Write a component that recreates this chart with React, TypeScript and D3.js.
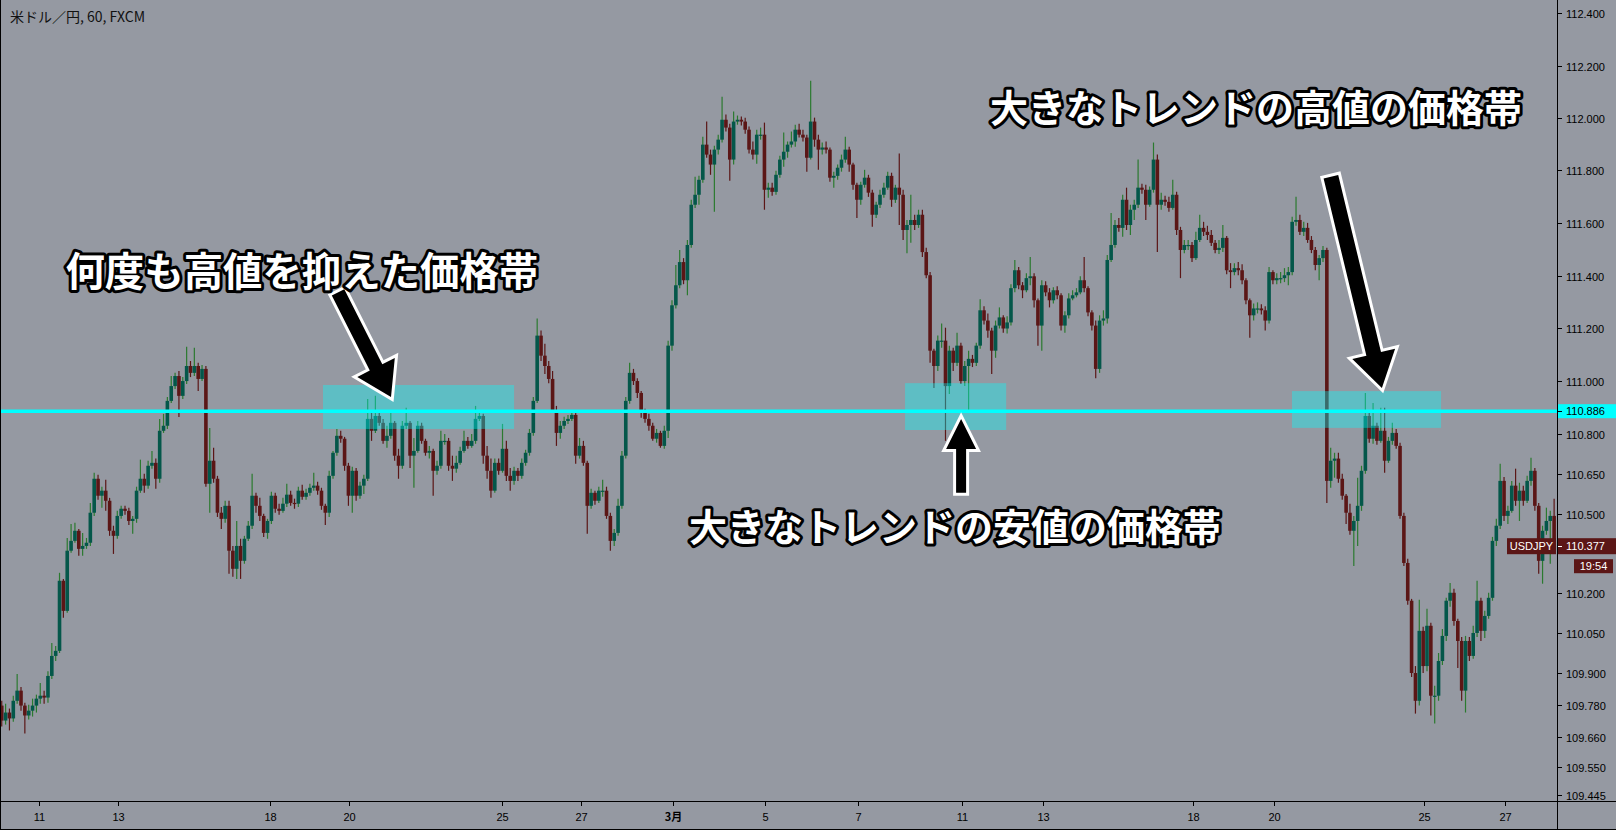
import React from 'react';
import * as d3 from 'd3';

const W = 1616;
const H = 830;

// USD/JPY, 60 min, FXCM — aggregated here into 2-hour candles (open = previous close)
const firstOpen = 109.779;
const closes = [
  109.723, 109.753, 109.731, 109.797, 109.835, 109.779, 109.742, 109.760, 109.779, 109.805,
  109.816, 109.809, 109.890, 109.965, 109.984, 110.247, 110.134, 110.360, 110.397, 110.435,
  110.367, 110.378, 110.390, 110.503, 110.631, 110.567, 110.586, 110.548, 110.435, 110.416,
  110.491, 110.518, 110.510, 110.472, 110.480, 110.586, 110.631, 110.605, 110.680, 110.691,
  110.631, 110.812, 110.831, 110.925, 110.981, 111.019, 110.944, 111.000, 111.057, 111.031,
  111.057, 111.008, 111.046, 110.612, 110.699, 110.631, 110.503, 110.480, 110.529, 110.360,
  110.292, 110.378, 110.322, 110.405, 110.454, 110.567, 110.529, 110.491, 110.427, 110.472,
  110.567, 110.518, 110.510, 110.537, 110.571, 110.540, 110.537, 110.586, 110.563, 110.578,
  110.597, 110.605, 110.586, 110.529, 110.503, 110.642, 110.729, 110.793, 110.782, 110.680,
  110.567, 110.661, 110.567, 110.605, 110.631, 110.857, 110.812, 110.868, 110.842, 110.774,
  110.793, 110.842, 110.718, 110.680, 110.831, 110.842, 110.718, 110.736, 110.831, 110.774,
  110.729, 110.736, 110.661, 110.680, 110.774, 110.774, 110.680, 110.669, 110.691, 110.736,
  110.774, 110.755, 110.774, 110.857, 110.868, 110.718, 110.661, 110.586, 110.691, 110.661,
  110.744, 110.642, 110.623, 110.661, 110.642, 110.691, 110.729, 110.804, 110.925, 111.172,
  111.096, 111.057, 111.008, 110.887, 110.804, 110.831, 110.849, 110.857, 110.872, 110.718,
  110.755, 110.691, 110.529, 110.578, 110.548, 110.586, 110.586, 110.491, 110.397, 110.427,
  110.529, 110.718, 110.925, 111.031, 111.000, 110.955, 110.880, 110.857, 110.831, 110.782,
  110.804, 110.755, 110.812, 111.134, 111.287, 111.363, 111.451, 111.382, 111.516, 111.669,
  111.707, 111.764, 111.898, 111.860, 111.822, 111.879, 111.917, 111.993, 111.963, 111.841,
  111.986, 111.993, 111.986, 111.955, 111.879, 111.860, 111.936, 111.936, 111.726, 111.734,
  111.718, 111.783, 111.841, 111.871, 111.898, 111.910, 111.955, 111.936, 111.925, 111.848,
  111.986, 111.917, 111.879, 111.887, 111.879, 111.772, 111.779, 111.810, 111.841, 111.879,
  111.822, 111.745, 111.688, 111.745, 111.772, 111.715, 111.631, 111.669, 111.707, 111.734,
  111.779, 111.688, 111.734, 111.707, 111.573, 111.592, 111.611, 111.592, 111.631, 111.489,
  111.401, 111.115, 111.057, 111.153, 111.153, 110.981, 111.115, 111.069, 111.134, 111.000,
  111.057, 111.084, 111.069, 111.134, 111.268, 111.229, 111.191, 111.115, 111.210, 111.241,
  111.199, 111.222, 111.352, 111.420, 111.363, 111.344, 111.390, 111.397, 111.306, 111.210,
  111.363, 111.336, 111.306, 111.344, 111.325, 111.210, 111.249, 111.313, 111.325, 111.336,
  111.382, 111.352, 111.260, 111.210, 111.046, 111.229, 111.237, 111.459, 111.516, 111.592,
  111.581, 111.688, 111.592, 111.650, 111.669, 111.734, 111.726, 111.669, 111.726, 111.841,
  111.669, 111.688, 111.680, 111.657, 111.707, 111.573, 111.497, 111.516, 111.516, 111.466,
  111.535, 111.581, 111.566, 111.554, 111.524, 111.497, 111.505, 111.543, 111.420, 111.413,
  111.428, 111.420, 111.382, 111.306, 111.249, 111.275, 111.275, 111.268, 111.229, 111.413,
  111.382, 111.390, 111.390, 111.401, 111.413, 111.604, 111.611, 111.566, 111.581, 111.535,
  111.497, 111.440, 111.466, 111.497, 110.623, 110.699, 110.707, 110.631, 110.567, 110.503,
  110.435, 110.472, 110.529, 110.661, 110.868, 110.782, 110.831, 110.774, 110.812, 110.699,
  110.774, 110.804, 110.755, 110.491, 110.314, 110.172, 109.901, 109.797, 110.059, 109.927,
  110.078, 109.816, 109.816, 109.946, 110.040, 110.172, 110.202, 110.096, 110.021, 109.835,
  110.021, 109.965, 110.051, 110.172, 110.059, 110.115, 110.183, 110.397, 110.454, 110.623,
  110.491, 110.510, 110.605, 110.548, 110.586, 110.548, 110.623, 110.661, 110.529, 110.322,
  110.435, 110.472, 110.491, 110.377,
];
const highs = [
  109.797, 109.786, 109.768, 109.816, 109.897, 109.849, 109.790, 109.782, 109.805, 109.820,
  109.864, 109.835, 109.908, 110.013, 110.002, 110.277, 110.254, 110.408, 110.461, 110.465,
  110.442, 110.427, 110.408, 110.540, 110.654, 110.646, 110.601, 110.627, 110.559, 110.454,
  110.510, 110.529, 110.529, 110.522, 110.491, 110.601, 110.703, 110.650, 110.699, 110.736,
  110.707, 110.857, 110.876, 110.940, 111.019, 111.031, 111.038, 111.015, 111.130, 111.076,
  111.126, 111.069, 111.061, 111.057, 110.823, 110.748, 110.642, 110.525, 110.548, 110.548,
  110.378, 110.472, 110.405, 110.416, 110.472, 110.650, 110.578, 110.559, 110.499, 110.480,
  110.582, 110.578, 110.537, 110.559, 110.612, 110.586, 110.556, 110.601, 110.608, 110.593,
  110.612, 110.654, 110.620, 110.597, 110.537, 110.661, 110.736, 110.819, 110.812, 110.789,
  110.691, 110.676, 110.672, 110.620, 110.646, 110.932, 110.880, 110.944, 110.880, 110.857,
  110.831, 110.880, 110.849, 110.744, 110.849, 110.899, 110.849, 110.785, 110.849, 110.842,
  110.782, 110.755, 110.744, 110.699, 110.812, 110.800, 110.785, 110.718, 110.718, 110.752,
  110.812, 110.789, 110.800, 110.906, 110.880, 110.876, 110.755, 110.707, 110.707, 110.707,
  110.838, 110.774, 110.672, 110.676, 110.672, 110.707, 110.740, 110.819, 110.940, 111.237,
  111.191, 111.141, 111.076, 111.038, 110.906, 110.849, 110.865, 110.872, 110.887, 110.880,
  110.785, 110.774, 110.699, 110.593, 110.586, 110.601, 110.627, 110.601, 110.503, 110.442,
  110.556, 110.736, 110.940, 111.069, 111.046, 111.011, 110.962, 110.895, 110.876, 110.842,
  110.819, 110.812, 110.831, 111.153, 111.306, 111.440, 111.497, 111.466, 111.535, 111.688,
  111.776, 111.779, 111.928, 111.986, 111.879, 111.894, 111.936, 112.081, 112.013, 111.978,
  112.024, 112.009, 112.005, 112.001, 111.967, 111.910, 111.955, 111.963, 111.982, 111.753,
  111.753, 111.798, 111.856, 111.944, 111.910, 111.948, 111.974, 111.978, 111.955, 111.936,
  112.142, 112.001, 111.936, 111.906, 111.910, 111.887, 111.795, 111.822, 111.860, 111.928,
  111.890, 111.829, 111.753, 111.757, 111.802, 111.783, 111.726, 111.680, 111.726, 111.753,
  111.795, 111.791, 111.745, 111.864, 111.726, 111.611, 111.707, 111.631, 111.650, 111.650,
  111.505, 111.413, 111.122, 111.172, 111.218, 111.202, 111.134, 111.126, 111.183, 111.145,
  111.076, 111.115, 111.099, 111.145, 111.310, 111.283, 111.256, 111.202, 111.229, 111.279,
  111.249, 111.245, 111.367, 111.459, 111.432, 111.375, 111.409, 111.470, 111.409, 111.313,
  111.382, 111.378, 111.352, 111.355, 111.359, 111.333, 111.264, 111.333, 111.344, 111.352,
  111.397, 111.470, 111.359, 111.268, 111.229, 111.249, 111.268, 111.478, 111.638, 111.611,
  111.619, 111.707, 111.734, 111.669, 111.688, 111.841, 111.749, 111.745, 111.738, 111.906,
  111.860, 111.715, 111.703, 111.699, 111.764, 111.718, 111.585, 111.535, 111.535, 111.527,
  111.566, 111.631, 111.604, 111.589, 111.573, 111.535, 111.535, 111.592, 111.550, 111.447,
  111.447, 111.451, 111.443, 111.390, 111.313, 111.294, 111.298, 111.291, 111.283, 111.432,
  111.420, 111.409, 111.413, 111.428, 111.432, 111.623, 111.699, 111.631, 111.604, 111.600,
  111.550, 111.508, 111.478, 111.512, 111.505, 110.748, 110.729, 110.729, 110.650, 110.574,
  110.537, 110.491, 110.635, 110.680, 110.955, 110.887, 110.917, 110.842, 110.899, 110.899,
  110.789, 110.842, 110.819, 110.767, 110.503, 110.330, 110.179, 109.927, 110.176, 110.074,
  110.142, 110.089, 109.853, 109.976, 110.066, 110.183, 110.239, 110.217, 110.104, 110.036,
  110.040, 110.036, 110.078, 110.247, 110.183, 110.134, 110.202, 110.412, 110.480, 110.688,
  110.638, 110.529, 110.623, 110.669, 110.616, 110.605, 110.642, 110.710, 110.672, 110.540,
  110.454, 110.522, 110.510, 110.556,
];
const lows = [
  109.701, 109.708, 109.686, 109.719, 109.786, 109.760, 109.675, 109.727, 109.738, 109.753,
  109.786, 109.786, 109.790, 109.879, 109.946, 109.976, 110.108, 110.127, 110.352, 110.390,
  110.341, 110.341, 110.367, 110.378, 110.491, 110.552, 110.522, 110.510, 110.416, 110.348,
  110.405, 110.480, 110.495, 110.457, 110.424, 110.465, 110.578, 110.578, 110.593, 110.669,
  110.593, 110.616, 110.804, 110.819, 110.917, 110.970, 110.864, 110.932, 110.989, 111.015,
  111.019, 110.962, 111.000, 110.601, 110.503, 110.616, 110.487, 110.442, 110.465, 110.273,
  110.262, 110.254, 110.254, 110.311, 110.397, 110.442, 110.503, 110.472, 110.412, 110.405,
  110.461, 110.503, 110.495, 110.503, 110.525, 110.529, 110.518, 110.525, 110.552, 110.552,
  110.567, 110.586, 110.571, 110.514, 110.457, 110.487, 110.631, 110.718, 110.767, 110.661,
  110.529, 110.503, 110.548, 110.556, 110.574, 110.623, 110.774, 110.804, 110.831, 110.763,
  110.748, 110.782, 110.699, 110.631, 110.669, 110.819, 110.672, 110.597, 110.729, 110.763,
  110.718, 110.707, 110.567, 110.646, 110.669, 110.759, 110.661, 110.623, 110.654, 110.684,
  110.729, 110.744, 110.748, 110.763, 110.849, 110.688, 110.631, 110.559, 110.578, 110.646,
  110.654, 110.623, 110.586, 110.608, 110.623, 110.631, 110.680, 110.718, 110.793, 110.917,
  111.076, 111.027, 110.992, 110.880, 110.755, 110.782, 110.819, 110.838, 110.849, 110.688,
  110.707, 110.680, 110.424, 110.518, 110.533, 110.540, 110.563, 110.480, 110.360, 110.378,
  110.416, 110.518, 110.707, 110.914, 110.985, 110.936, 110.861, 110.842, 110.812, 110.774,
  110.767, 110.748, 110.744, 110.785, 111.115, 111.275, 111.352, 111.367, 111.325, 111.505,
  111.657, 111.669, 111.753, 111.848, 111.783, 111.642, 111.860, 111.906, 111.948, 111.760,
  111.822, 111.974, 111.971, 111.940, 111.864, 111.841, 111.825, 111.917, 111.650, 111.696,
  111.703, 111.707, 111.772, 111.814, 111.848, 111.887, 111.890, 111.925, 111.910, 111.795,
  111.841, 111.890, 111.802, 111.860, 111.864, 111.757, 111.734, 111.764, 111.795, 111.829,
  111.795, 111.726, 111.619, 111.669, 111.734, 111.699, 111.585, 111.619, 111.657, 111.696,
  111.726, 111.661, 111.676, 111.592, 111.535, 111.485, 111.524, 111.573, 111.581, 111.470,
  111.390, 111.069, 110.974, 111.038, 111.126, 110.774, 110.951, 111.038, 111.057, 110.989,
  110.981, 110.887, 111.053, 111.057, 111.122, 111.214, 111.164, 111.027, 111.088, 111.199,
  111.183, 111.180, 111.210, 111.336, 111.348, 111.314, 111.336, 111.363, 111.279, 111.134,
  111.115, 111.321, 111.279, 111.294, 111.310, 111.191, 111.183, 111.237, 111.306, 111.317,
  111.329, 111.336, 111.245, 111.191, 111.011, 111.031, 111.210, 111.218, 111.451, 111.505,
  111.566, 111.547, 111.573, 111.554, 111.611, 111.657, 111.711, 111.611, 111.661, 111.715,
  111.489, 111.650, 111.665, 111.642, 111.650, 111.554, 111.390, 111.485, 111.497, 111.451,
  111.459, 111.527, 111.550, 111.535, 111.512, 111.485, 111.482, 111.489, 111.405, 111.352,
  111.401, 111.401, 111.367, 111.291, 111.164, 111.229, 111.256, 111.252, 111.191, 111.218,
  111.367, 111.367, 111.371, 111.375, 111.363, 111.401, 111.589, 111.554, 111.550, 111.524,
  111.485, 111.420, 111.382, 111.451, 110.540, 110.597, 110.635, 110.616, 110.552, 110.461,
  110.420, 110.303, 110.378, 110.510, 110.650, 110.767, 110.763, 110.759, 110.767, 110.654,
  110.691, 110.759, 110.744, 110.480, 110.303, 110.157, 109.886, 109.749, 109.779, 109.901,
  109.908, 109.742, 109.712, 109.797, 109.931, 110.021, 110.149, 110.078, 109.920, 109.797,
  109.753, 109.946, 109.954, 110.036, 110.021, 110.032, 110.104, 110.172, 110.378, 110.442,
  110.472, 110.461, 110.503, 110.529, 110.472, 110.529, 110.540, 110.605, 110.510, 110.273,
  110.236, 110.420, 110.311, 110.367,
];

// time axis in hourly-bar units
const hoursPerCandle = 2;
const tickHours = [20, 61, 140, 181, 260, 301, 349, 397, 445, 499, 541, 619, 661, 739, 781];
const tickLabels = ['11', '13', '18', '20', '25', '27', '3月', '5', '7', '11', '13', '18', '20', '25', '27'];
const priceTicks = [112.4, 112.2, 112.0, 111.8, 111.6, 111.4, 111.2, 111.0, 110.8, 110.65, 110.5, 110.2, 110.05, 109.9, 109.78, 109.66, 109.55, 109.445];

const levelPrice = 110.886;
const lastPrice = 110.377;
const symbol = 'USDJPY';
const countdown = '19:54';
const title = '米ドル／円, 60, FXCM';

// highlighted zones (hour range, price range)
const zoneHourStart = [167.3, 469.5, 670.4];
const zoneHourEnd = [266.5, 522, 747.8];
const zonePriceTop = [110.985, 110.992, 110.962];
const zonePriceBottom = [110.819, 110.815, 110.823];

// arrows (tail -> tip, in hour / price)
const arrowTailHour = [175.1, 498.6, 690.6];
const arrowTailPrice = [111.336, 110.578, 111.776];
const arrowTipHour = [202.6, 498.6, 717.1];
const arrowTipPrice = [110.940, 110.857, 110.974];

// annotation texts (anchor hour / baseline price)
const noteTexts = ['何度も高値を抑えた価格帯', '大きなトレンドの安値の価格帯', '大きなトレンドの高値の価格帯'];
const noteHour = [33.6, 357.3, 513.6];
const notePrice = [111.360, 110.397, 111.986];

const BG = '#9599a2';
const UP_BODY = '#04574a';
const UP_WICK = '#2b7a2f';
const DOWN = '#5b1616';
const CYAN = '#00ffff';
const AXIS_FONT = '"Liberation Sans", Arial, sans-serif';
const JP_FONT = '"Noto Sans CJK JP", "Noto Sans", sans-serif';

const plotRight = 1557;
const plotBottom = 801;

function arrowPoints(x1: number, y1: number, x2: number, y2: number, shaftW: number, headW: number, headL: number) {
  const dx = x2 - x1, dy = y2 - y1;
  const len = Math.hypot(dx, dy);
  const ux = dx / len, uy = dy / len;
  const px = -uy, py = ux;
  const bx = x2 - ux * headL, by = y2 - uy * headL;
  const pts = [
    [x1 + px * shaftW / 2, y1 + py * shaftW / 2],
    [bx + px * shaftW / 2, by + py * shaftW / 2],
    [bx + px * headW / 2, by + py * headW / 2],
    [x2, y2],
    [bx - px * headW / 2, by - py * headW / 2],
    [bx - px * shaftW / 2, by - py * shaftW / 2],
    [x1 - px * shaftW / 2, y1 - py * shaftW / 2],
  ];
  return pts.map((p) => p[0].toFixed(1) + ',' + p[1].toFixed(1)).join(' ');
}

export default function App() {
  const x = d3.scaleLinear().domain([20, 781]).range([39.3, 1505]);
  const y = d3.scaleLog().domain([109.445, 112.4]).range([795, 13.3]);

  const candles = closes.map((c, i) => {
    const o = i === 0 ? firstOpen : closes[i - 1];
    const h = Math.max(highs[i], o, c);
    const l = Math.min(lows[i], o, c);
    const cx = x(i * hoursPerCandle + 0.5);
    const up = c >= o;
    const yTop = y(Math.max(o, c));
    const yBot = y(Math.min(o, c));
    const bodyH = Math.max(1.2, yBot - yTop);
    return (
      <g key={i}>
        <line x1={cx} x2={cx} y1={y(h)} y2={y(l)} stroke={up ? UP_WICK : DOWN} strokeWidth={1.2} />
        <rect x={cx - 1.8} y={yTop} width={3.6} height={bodyH} fill={up ? UP_BODY : DOWN} />
      </g>
    );
  });

  const arrowShaft = [14, 10, 15];
  const arrowHeadW = [42, 30, 44];
  const arrowHeadL = [33, 30, 35];
  const noteSize = [39.4, 38, 38];

  const levelY = y(levelPrice);
  const lastY = y(lastPrice);

  return (
    <svg width={W} height={H} style={{ position: 'absolute', left: 0, top: 0, display: 'block' }}>
      <rect x={0} y={0} width={W} height={H} fill={BG} />
      <defs>
        <clipPath id="plot">
          <rect x={0} y={0} width={plotRight} height={plotBottom} />
        </clipPath>
      </defs>
      <g clipPath="url(#plot)">
        {candles}
        {zoneHourStart.map((h0, i) => (
          <rect
            key={'z' + i}
            x={x(h0)}
            y={y(zonePriceTop[i])}
            width={x(zoneHourEnd[i]) - x(h0)}
            height={y(zonePriceBottom[i]) - y(zonePriceTop[i])}
            fill={CYAN}
            fillOpacity={0.37}
          />
        ))}
        <line x1={0} x2={plotRight} y1={levelY} y2={levelY} stroke={CYAN} strokeWidth={3.5} />
        {arrowTailHour.map((th, i) => (
          <polygon
            key={'a' + i}
            points={arrowPoints(x(th), y(arrowTailPrice[i]), x(arrowTipHour[i]), y(arrowTipPrice[i]), arrowShaft[i], arrowHeadW[i], arrowHeadL[i])}
            fill="#000"
            stroke="#fff"
            strokeWidth={6}
            strokeLinejoin="miter"
            paintOrder="stroke"
          />
        ))}
        {noteTexts.map((t, i) => (
          <text
            key={'t' + i}
            x={x(noteHour[i])}
            y={y(notePrice[i])}
            fontFamily={JP_FONT}
            fontWeight={700}
            fontSize={noteSize[i]}
            fill="#fff"
            stroke="#000"
            strokeWidth={6}
            strokeLinejoin="round"
            paintOrder="stroke"
          >
            {t}
          </text>
        ))}
        <rect x={1507} y={lastY - 8} width={49} height={16} fill={DOWN} />
        <text x={1531.5} y={lastY + 4} fill="#fff" fontFamily={AXIS_FONT} fontSize={11} textAnchor="middle">{symbol}</text>
      </g>

      {/* title */}
      <text x={10} y={22} fontFamily={JP_FONT} fontSize={14} fill="#111">{title}</text>

      {/* axes lines */}
      <line x1={plotRight + 0.5} x2={plotRight + 0.5} y1={0} y2={H} stroke="#000" strokeWidth={1} />
      <line x1={0} x2={W} y1={plotBottom + 0.5} y2={plotBottom + 0.5} stroke="#000" strokeWidth={1} />
      <line x1={0.5} x2={0.5} y1={0} y2={H} stroke="#000" strokeWidth={1} />
      <line x1={0} x2={W} y1={H - 0.5} y2={H - 0.5} stroke="#000" strokeWidth={1} />

      {/* y ticks */}
      {priceTicks.map((p, i) => {
        const ty = Math.round(y(p)) + 0.5;
        return (
          <g key={'yt' + i}>
            <line x1={plotRight + 1} x2={plotRight + 5} y1={ty} y2={ty} stroke="#000" />
            <text x={1566} y={ty + 4} fontFamily={AXIS_FONT} fontSize={11} fill="#000">{p.toFixed(3)}</text>
          </g>
        );
      })}

      {/* level label */}
      <rect x={plotRight + 1} y={levelY - 7} width={W - plotRight - 1} height={14} fill={CYAN} />
      <line x1={plotRight + 1} x2={plotRight + 5} y1={Math.round(levelY) + 0.5} y2={Math.round(levelY) + 0.5} stroke="#000" />
      <text x={1566} y={levelY + 4} fontFamily={AXIS_FONT} fontSize={11} fill="#000">{levelPrice.toFixed(3)}</text>

      {/* last price label */}
      <rect x={plotRight + 1} y={lastY - 8} width={W - plotRight - 1} height={16} fill={DOWN} />
      <line x1={plotRight + 1} x2={plotRight + 5} y1={Math.round(lastY) + 0.5} y2={Math.round(lastY) + 0.5} stroke="#fff" />
      <text x={1566} y={lastY + 4} fontFamily={AXIS_FONT} fontSize={11} fill="#fff">{lastPrice.toFixed(3)}</text>
      <rect x={1574} y={lastY + 13} width={39} height={14} fill={DOWN} />
      <text x={1593.5} y={lastY + 24} fontFamily={AXIS_FONT} fontSize={11} fill="#fff" textAnchor="middle">{countdown}</text>

      {/* x ticks */}
      {tickHours.map((h, i) => {
        const tx = Math.round(x(h)) + 0.5;
        return (
          <g key={'xt' + i}>
            <line x1={tx} x2={tx} y1={plotBottom + 1} y2={plotBottom + 5} stroke="#000" />
            <text
              x={tx}
              y={821}
              fontFamily={tickLabels[i].includes('月') ? JP_FONT : AXIS_FONT}
              fontWeight={tickLabels[i].includes('月') ? 700 : 400}
              fontSize={11}
              fill="#000"
              textAnchor="middle"
            >
              {tickLabels[i]}
            </text>
          </g>
        );
      })}
    </svg>
  );
}
